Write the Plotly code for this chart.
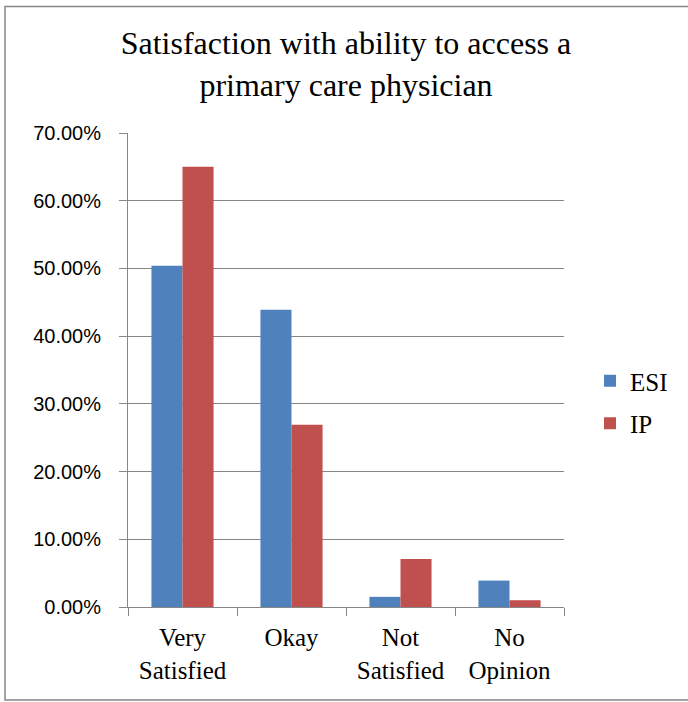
import plotly.graph_objects as go

# Survey results: share of respondents per answer
categories = ["Very<br>Satisfied", "Okay", "Not<br>Satisfied", "No<br>Opinion"]
esi_values = [0.504, 0.439, 0.015, 0.039]
ip_values = [0.650, 0.269, 0.071, 0.010]
y_ticks = [0.0, 0.1, 0.2, 0.3, 0.4, 0.5, 0.6, 0.7]

W, H = 688, 702
ML, MR, MT, MB = 128, 124, 133, 95
plot_w = W - ML - MR
plot_h = H - MT - MB

GRID = "#868686"
SERIF = "Liberation Serif, Times New Roman, serif"
SANS = "Liberation Sans, Arial, sans-serif"


def px_x(px):
    return (px - ML) / plot_w


def px_y(py):
    return (H - MB - py) / plot_h


fig = go.Figure()
fig.add_trace(go.Bar(x=categories, y=esi_values, name="ESI",
                     marker=dict(color="#4F81BD", line=dict(width=0)),
                     legendgroup="esi"))
fig.add_trace(go.Bar(x=categories, y=ip_values, name="IP",
                     marker=dict(color="#C0504D", line=dict(width=0)),
                     legendgroup="ip"))

fig.update_layout(
    width=W, height=H,
    margin=dict(l=ML, r=MR, t=MT, b=MB),
    paper_bgcolor="white", plot_bgcolor="white",
    barmode="group", bargap=0.43, bargroupgap=0,
    title=dict(
        text="Satisfaction with ability to access a<br>primary care physician",
        font=dict(family=SERIF, size=32, color="black"),
        x=0.5, xref="paper", xanchor="center",
        y=1 - 54 / H, yref="container", yanchor="top",
    ),
    legend=dict(
        x=px_x(590), y=px_y(358), xanchor="left", yanchor="top",
        font=dict(family=SERIF, size=25, color="black"),
        tracegroupgap=7, bgcolor="rgba(0,0,0,0)",
    ),
    showlegend=True,
    xaxis=dict(
        showline=True, linecolor=GRID, linewidth=1,
        ticks="outside", tickson="boundaries", ticklen=8, tickcolor=GRID,
        tickfont=dict(family=SERIF, size=25, color="black"),
        showgrid=False,
        ticklabelstandoff=8,
    ),
    yaxis=dict(
        range=[0, 0.7], tickvals=y_ticks, tickformat=".2%",
        showline=True, linecolor=GRID, linewidth=1,
        ticks="outside", ticklen=8, tickcolor=GRID,
        showgrid=True, gridcolor=GRID, gridwidth=1,
        zeroline=False,
        tickfont=dict(family=SANS, size=20, color="black"),
        ticklabelstandoff=14,
    ),
    shapes=[
        dict(type="rect", xref="paper", yref="paper",
             x0=px_x(5), x1=px_x(700), y0=px_y(700), y1=px_y(6.5),
             line=dict(color=GRID, width=1.5), fillcolor="rgba(0,0,0,0)",
             layer="below"),
    ],
)

fig.write_html("out.html")
